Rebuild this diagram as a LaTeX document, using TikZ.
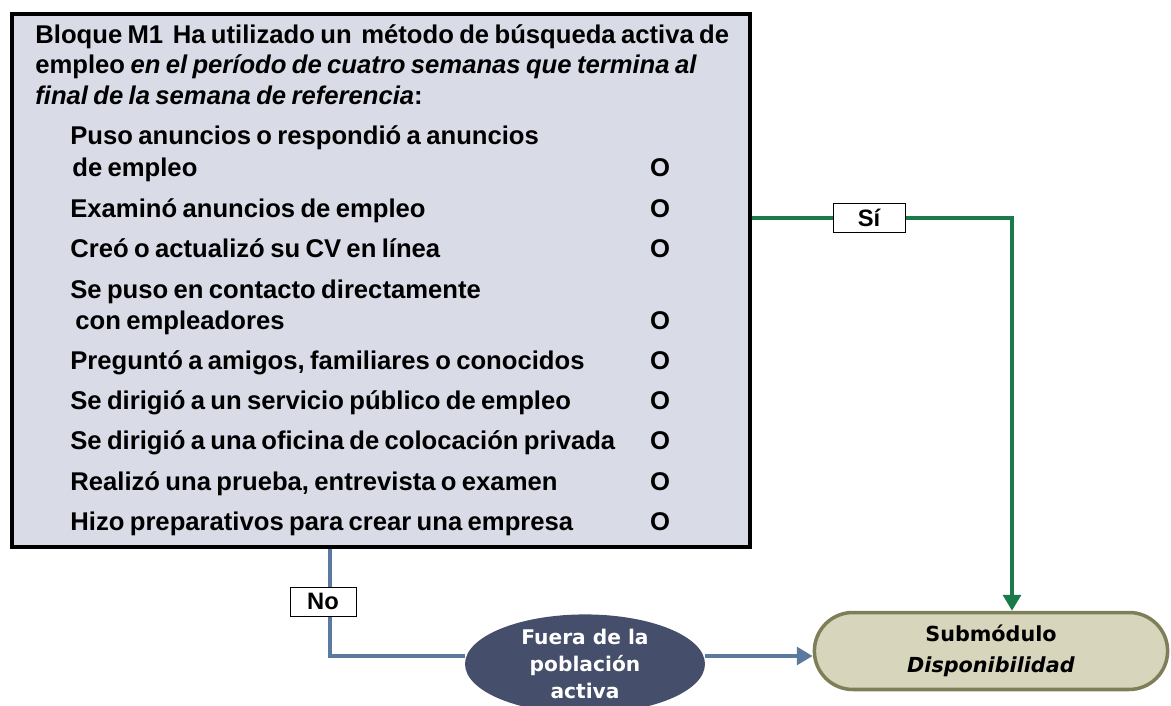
\documentclass[tikz,border=0pt]{standalone}
\usepackage{fontspec}
\setmainfont{Liberation Sans}[WordSpace=0.75]
\newfontfamily\verdfont{DejaVu Sans}
\usepackage{tikz}
\usetikzlibrary{positioning}
\usetikzlibrary{shapes}
\usetikzlibrary{arrows.meta}

\definecolor{boxgray}{RGB}{217,219,230}
\definecolor{sigreen}{RGB}{26,122,74}
\definecolor{noblue}{RGB}{92,122,160}
\definecolor{fueraslate}{RGB}{69,78,106}
\definecolor{subfill}{RGB}{215,214,189}
\definecolor{subdraw}{RGB}{126,126,88}

\begin{document}
\begin{tikzpicture}[x=0.02cm, y=-0.02cm,
  bloque/.style={draw=black, line width=2.4pt, fill=boxgray, anchor=north west, inner sep=0pt},
  txt/.style={anchor=base west, inner sep=0pt, font=\fontsize{14.6}{16}\selectfont\bfseries},
  ocheck/.style={anchor=base, inner sep=0pt, font=\fontsize{14.6}{16}\selectfont\bfseries},
  tag/.style={draw=black, fill=white, thin, font=\fontsize{13.5}{15}\selectfont\bfseries, inner sep=0pt},
  siline/.style={sigreen, line width=2.3pt},
  noline/.style={noblue, line width=2.3pt}]
\useasboundingbox (0,0) rectangle (1171,706);

%block
\node (block) [bloque, minimum width=14.76cm, minimum height=10.66cm] at (10,12) {};
%title
\node (t1) [txt] at (35,44) {Bloque M1\, Ha utilizado un\, método de búsqueda activa de};
\node (t2) [txt] at (35,74) {empleo \textit{en el período de cuatro semanas que termina al}};
\node (t3) [txt] at (35,105) {\textit{final de la semana de referencia}:};
%items
\node (i1) [txt] at (70,145) {Puso anuncios o respondió a anuncios};
\node (i1b) [txt] at (72,177) {de empleo};
\node (i2) [txt] at (70,217) {Examinó anuncios de empleo};
\node (i3) [txt] at (70,257) {Creó o actualizó su CV en línea};
\node (i4) [txt] at (70,298) {Se puso en contacto directamente};
\node (i4b) [txt] at (75,329) {con empleadores};
\node (i5) [txt] at (70,369) {Preguntó a amigos, familiares o conocidos};
\node (i6) [txt] at (70,409) {Se dirigió a un servicio público de empleo};
\node (i7) [txt] at (70,449) {Se dirigió a una oficina de colocación privada};
\node (i8) [txt] at (70,490) {Realizó una prueba, entrevista o examen};
\node (i9) [txt] at (70,530) {Hizo preparativos para crear una empresa};
%circles
\node (o1) [ocheck] at (660,177) {O};
\node (o2) [ocheck] at (660,217) {O};
\node (o3) [ocheck] at (660,257) {O};
\node (o4) [ocheck] at (660,329) {O};
\node (o5) [ocheck] at (660,369) {O};
\node (o6) [ocheck] at (660,409) {O};
\node (o7) [ocheck] at (660,449) {O};
\node (o8) [ocheck] at (660,490) {O};
\node (o9) [ocheck] at (660,530) {O};

%targets
\node (sub) [rounded rectangle, draw=subdraw, line width=2pt, fill=subfill,
  minimum width=7.3cm, minimum height=1.54cm, align=center,
  font=\verdfont\fontsize{11.8}{18}\selectfont\bfseries] at (991,651)
  {Submódulo\\\textit{Disponibilidad}};
\node (fuera) [ellipse, fill=fueraslate, text=white, minimum width=4.8cm, minimum height=1.68cm,
  inner sep=0pt, align=center, font=\verdfont\fontsize{11.5}{15.5}\selectfont\bfseries] at (585,664)
  {Fuera de la\\población\\activa};
\coordinate (sicorner) at (1012,218);
\coordinate (nocorner) at (330,656);

%si
\draw[siline, -{Triangle[width=10pt,length=9pt]}] (block.east |- sicorner)
  -- node[tag, pos=0.45, minimum width=1.44cm, minimum height=0.58cm, text=black] {Sí}
  (sicorner) -- (sicorner |- sub.north);
%no
\draw[noline] (block.south -| nocorner)
  -- node[tag, pos=0.49, minimum width=1.32cm, minimum height=0.58cm, xshift=-7*0.02cm, text=black] {No}
  (nocorner) -- (fuera.west |- nocorner);
\draw[noline, -{Triangle[width=10pt,length=9pt]}] (fuera.east |- nocorner) -- (sub.west |- nocorner);

\end{tikzpicture}
\end{document}
